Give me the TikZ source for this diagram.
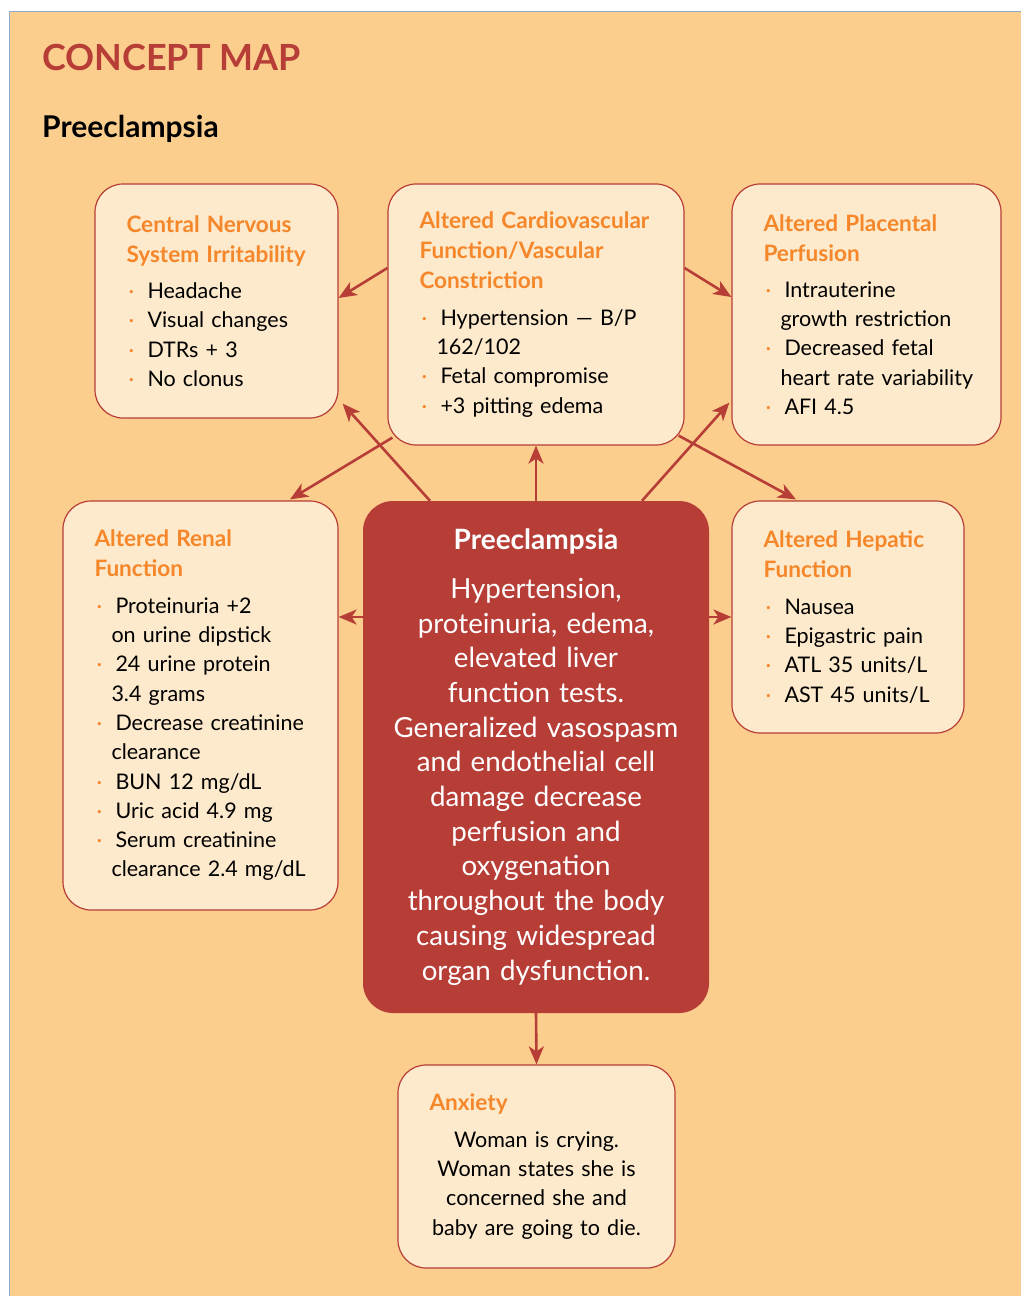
\documentclass[tikz,border=0pt]{standalone}
\usepackage{fontspec}
\setmainfont{Lato}
\usetikzlibrary{arrows.meta}
\definecolor{panelbg}{RGB}{251,206,142}
\definecolor{panelline}{RGB}{143,170,203}
\definecolor{boxcream}{RGB}{253,233,203}
\definecolor{mapred}{RGB}{183,61,55}
\definecolor{hdorange}{RGB}{245,135,42}
\setlength\parindent{0pt}
\newcommand\hd[1]{\leftskip=25.5pt
  {\fontsize{22.6}{30}\selectfont\bfseries\color{hdorange}#1\par}\vspace{7pt}}
\newcommand\bul[1]{\hangindent=17pt\hangafter=1\noindent
  \hbox to 21pt{\hspace{2pt}\textcolor{hdorange}{\textperiodcentered}\hfil}#1\par}
\begin{document}
\begin{tikzpicture}[x=1pt,y=-1pt,
  >={Stealth[length=18pt,width=15pt,inset=5pt]},
  topic/.style={draw=mapred,fill=boxcream,line width=1.2pt,rounded corners=28pt,
    inner xsep=6pt,inner ysep=0pt,font=\fontsize{21.5}{29.3}\selectfont},
  hub/.style={fill=mapred,rounded corners=30pt,text=white,align=center,
    inner sep=0pt,font=\fontsize{27.7}{34.7}\selectfont},
  link/.style={->,draw=mapred,line width=2.6pt}]
\useasboundingbox (0,0) rectangle (1021,1296);
\fill[white] (0,0) rectangle (1021,1296);
\fill[panelbg] (9,11) rectangle (1021,1296);
\draw[panelline,line width=1pt] (9,1296) -- (9,11) -- (1021,11);
\node[anchor=base west,inner sep=0pt,text=mapred,
  font=\fontsize{36}{40}\selectfont\bfseries] (maptitle) at (42,70) {CONCEPT MAP};
\node[anchor=base west,inner sep=0pt,
  font=\fontsize{30}{36}\selectfont\bfseries] (subject) at (42,137) {Preeclampsia};
\node[topic,minimum width=243pt,minimum height=234pt,text width=231pt] (cns) at (216.5,301)
  {\hd{Central Nervous\\System Irritability}
   \bul{Headache}\bul{Visual changes}\bul{DTRs + 3}\bul{No clonus}};
\node[topic,minimum width=296pt,minimum height=261pt,text width=284pt] (cardio) at (536,314.5)
  {\hd{Altered Cardiovascular\\Function/Vascular\\Constriction}
   \bul{Hypertension — B/P\newline 162/102}\bul{Fetal compromise}\bul{+3 pitting edema}};
\node[topic,minimum width=269pt,minimum height=261pt,text width=257pt] (placenta) at (866.5,314.5)
  {\hd{Altered Placental\\Perfusion}
   \bul{Intrauterine\newline growth restriction}\bul{Decreased fetal\newline heart rate variability}
   \bul{AFI 4.5}};
\node[topic,minimum width=275pt,minimum height=409pt,text width=263pt] (renal) at (200.5,705.5)
  {\hd{Altered Renal\\Function}
   \bul{Proteinuria +2\newline on urine dipstick}\bul{24 urine protein\newline 3.4 grams}
   \bul{Decrease creatinine\newline clearance}\bul{BUN 12 mg/dL}\bul{Uric acid 4.9 mg}
   \bul{Serum creatinine\newline clearance 2.4 mg/dL}};
\node[hub,minimum width=346pt,minimum height=512pt,text width=320pt] (core) at (536,757)
  {{\bfseries\fontsize{28}{34.7}\selectfont Preeclampsia}\\[14pt]
   Hypertension,\\proteinuria, edema,\\elevated liver\\function tests.\\
   Generalized vasospasm\\and endothelial cell\\damage decrease\\perfusion and\\
   oxygenation\\throughout the body\\causing widespread\\organ dysfunction.};
\node[topic,minimum width=232pt,minimum height=232pt,text width=220pt] (hepatic) at (848,617)
  {\hd{Altered Hepatic\\Function}
   \bul{Nausea}\bul{Epigastric pain}\bul{ATL 35 units/L}\bul{AST 45 units/L}};
\node[topic,minimum width=277pt,minimum height=203pt,text width=265pt] (anxiety) at (536.5,1166.5)
  {\hd{Anxiety}
   {\centering Woman is crying.\\Woman states she is\\concerned she and\\
    baby are going to die.\par}};
\draw[link] ([yshift=46.5pt]cardio.west) -- ([yshift=3pt]cns.east);
\draw[link] ([yshift=46.5pt]cardio.east) -- ([yshift=17.5pt]placenta.west);
\draw[link] ([xshift=-106pt]core.north) -- ([xshift=4pt,yshift=15pt]cns.south east);
\draw[link] ([xshift=5pt,yshift=8pt]cardio.south west) -- ([xshift=89.5pt,yshift=1pt]renal.north);
\draw[link] (core.north) -- (cardio.south);
\draw[link] ([xshift=106pt]core.north) -- ([xshift=-2pt,yshift=43pt]placenta.south west);
\draw[link] ([xshift=-6pt,yshift=10pt]cardio.south east) -- ([xshift=-52pt,yshift=1pt]hepatic.north);
\draw[link] (core.west |- hepatic.west) -- (renal.east |- hepatic.west);
\draw[link] (core.east |- hepatic.west) -- (hepatic.west);
\draw[link] (core.south) -- (anxiety.north);
\end{tikzpicture}
\end{document}
